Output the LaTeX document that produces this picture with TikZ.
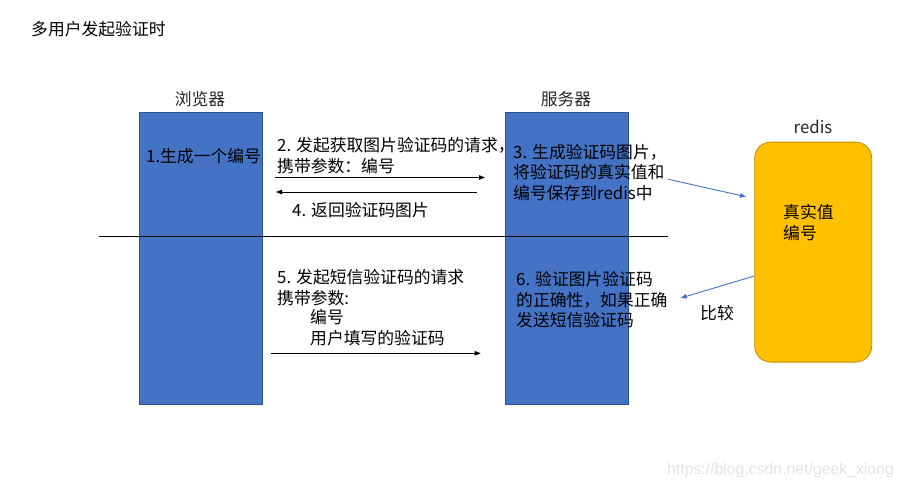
\documentclass[tikz,border=0pt]{standalone}
\usepackage{fontspec}
\setmainfont{Noto Sans CJK SC}
\newfontfamily\wmfont{Liberation Sans}
\usetikzlibrary{arrows.meta}
\definecolor{boxblue}{HTML}{4472C4}
\definecolor{boxblueedge}{HTML}{2F528F}
\definecolor{redisfill}{HTML}{FFC000}
\definecolor{redisedge}{HTML}{BF9000}
\definecolor{wmgray}{HTML}{E3E3E3}
\begin{document}
\begin{tikzpicture}[x=1pt,y=-1pt,
  txt/.style={anchor=base west,inner sep=0pt,font=\fontsize{16.8}{20}\selectfont,text=black},
  lbl/.style={inner sep=0pt,font=\fontsize{16.8}{20}\selectfont,text=black!85},
  lane/.style={draw=boxblueedge,fill=boxblue,line width=0.8pt},
  store/.style={draw=redisedge,fill=redisfill,line width=0.8pt,rounded corners=16pt},
  msg/.style={draw=black,line width=0.8pt,-{Triangle[length=6pt,width=4.5pt]}},
  bluemsg/.style={draw=boxblue,line width=0.9pt,-{Triangle[length=6pt,width=4.5pt]}}]
\useasboundingbox (0,0) rectangle (902,487);
\fill[white] (0,0) rectangle (902,487);
% title
\node[txt] (title) at (31,35.5) {多用户发起验证时};
% lanes
\node[lane,minimum width=123pt,minimum height=292pt,anchor=north west] (browser) at (139.3,112.3) {};
\node[lane,minimum width=123pt,minimum height=292pt,anchor=north west] (server) at (505.3,112.3) {};
\node[store,minimum width=117pt,minimum height=220pt,anchor=north west] (redis) at (754.3,141.7) {};
\node[lbl] (browserlbl) at (200,99) {浏览器};
\node[lbl] (serverlbl) at (566,99) {服务器};
\node[lbl] (redislbl) at (813,127) {redis};
% divider
\coordinate (divL) at (99,236);
\coordinate (divR) at (668,236);
\draw[line width=0.8pt] (divL) -- (divR);
% texts
\node[txt] (t1) at (146,162.5) {1.生成一个编号};
\node[txt] (t2a) at (277,151.5) {2. 发起获取图片验证码的请求，};
\node[txt] (t2b) at (277,172.5) {携带参数：编号};
\node[txt] (t4) at (292,216.5) {4. 返回验证码图片};
\node[txt] (t3a) at (513,158.5) {3. 生成验证码图片，};
\node[txt] (t3b) at (513,178.5) {将验证码的真实值和};
\node[txt] (t3c) at (513,199.5) {编号保存到redis中};
\node[txt] (tr1) at (783,218) {真实值};
\node[txt] (tr2) at (783,239) {编号};
\node[txt] (tcmp) at (700,319.5) {比较};
\node[txt] (t5a) at (277,283) {5. 发起短信验证码的请求};
\node[txt] (t5b) at (277,304.5) {携带参数:};
\node[txt] (t5c) at (310,323.5) {编号};
\node[txt] (t5d) at (310,344.5) {用户填写的验证码};
\node[txt] (t6a) at (516,285.5) {6. 验证图片验证码};
\node[txt] (t6b) at (516,306.5) {的正确性，如果正确};
\node[txt] (t6c) at (516,326.5) {发送短信验证码};
% arrow endpoints
\coordinate (a1s) at (275,177.5);
\coordinate (a1e) at (485,177.5);
\coordinate (a2s) at (476.7,192);
\coordinate (a2e) at (276,192);
\coordinate (a3s) at (270.7,353.3);
\coordinate (a3e) at (480.7,353.3);
\coordinate (b1s) at (668.3,179.3);
\coordinate (b1e) at (746,196.7);
\coordinate (b2s) at (754.3,276);
\coordinate (b2e) at (680.7,298);
\draw[msg] (a1s) -- (a1e);
\draw[msg] (a2s) -- (a2e);
\draw[msg] (a3s) -- (a3e);
\draw[bluemsg] (b1s) -- (b1e);
\draw[bluemsg] (b2s) -- (b2e);
% watermark
\node[anchor=base west,inner sep=0pt,font=\wmfont\fontsize{15.8}{17}\selectfont,text=wmgray] (wm) at (667,474) {https://blog.csdn.net/geek\_xiong};
\end{tikzpicture}
\end{document}
